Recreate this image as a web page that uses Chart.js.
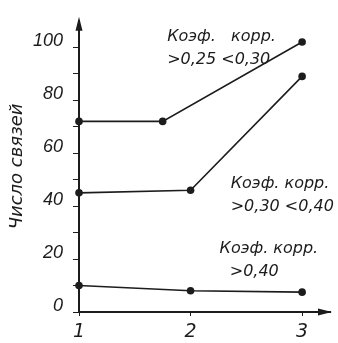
<!DOCTYPE html>
<html>
<head>
<meta charset="utf-8">
<script src="https://cdn.jsdelivr.net/npm/chart.js@4"></script>
<style>
  html, body { margin: 0; padding: 0; background: #fff; }
  #wrap { width: 338px; height: 343px; }
</style>
</head>
<body>
<div id="wrap"><canvas id="c"></canvas></div>
<script>
// данные
const xTicks = [1, 2, 3];
const xTop = [1, 1.75, 3];
const yTop = [72, 72, 102];
const xMid = [1, 2, 3];
const yMid = [45, 46, 89];
const xLow = [1, 2, 3];
const yLow = [10, 8, 7.5];
const yTitle = 'Число связей';
const notes = [
  { x: 1.79, y: 104, lines: ['Коэф.   корр.', '>0,25 <0,30'] },
  { x: 2.36, y: 48.5, lines: ['Коэф. корр.', '>0,30 <0,40'] },
  { x: 2.26, y: 24, lines: ['Коэф. корр.', '  >0,40'] }
];

const ink = '#1c1c1c';
const font = '"DejaVu Sans", sans-serif';
const narrow = '"Liberation Sans", sans-serif';

function pts(xs, ys) {
  return xs.map((x, i) => ({ x: x, y: ys[i] }));
}

function line(xs, ys) {
  return {
    data: pts(xs, ys),
    borderColor: ink,
    backgroundColor: ink,
    borderWidth: 1.6,
    pointRadius: 3.8,
    pointBorderWidth: 0,
    tension: 0,
    clip: false
  };
}

// подписи и стрелки на концах осей
const extras = {
  id: 'extras',
  afterDraw(chart) {
    const ctx = chart.ctx;
    const a = chart.chartArea;
    const xs = chart.scales.x, ys = chart.scales.y;
    ctx.save();
    ctx.fillStyle = ink;
    // стрелка оси y
    ctx.beginPath();
    ctx.moveTo(a.left, a.top - 4);
    ctx.lineTo(a.left - 3.5, a.top + 10);
    ctx.lineTo(a.left + 3.5, a.top + 10);
    ctx.closePath();
    ctx.fill();
    // стрелка оси x
    ctx.beginPath();
    ctx.moveTo(a.right + 2, a.bottom);
    ctx.lineTo(a.right - 12, a.bottom - 3.5);
    ctx.lineTo(a.right - 12, a.bottom + 3.5);
    ctx.closePath();
    ctx.fill();
    // подписи
    ctx.font = 'italic 16px ' + font;
    ctx.textAlign = 'left';
    ctx.textBaseline = 'middle';
    notes.forEach(n => {
      const px = xs.getPixelForValue(n.x);
      const py = ys.getPixelForValue(n.y);
      n.lines.forEach((s, i) => ctx.fillText(s, px, py + i * 23));
    });
    ctx.restore();
  }
};

new Chart(document.getElementById('c'), {
  type: 'line',
  data: {
    datasets: [line(xTop, yTop), line(xMid, yMid), line(xLow, yLow)]
  },
  options: {
    responsive: true,
    maintainAspectRatio: false,
    animation: false,
    layout: { padding: { top: 13, right: 8, left: 0, bottom: 0 } },
    plugins: { legend: { display: false }, tooltip: { enabled: false } },
    scales: {
      x: {
        type: 'linear',
        min: 1,
        max: 3.25,
        afterBuildTicks: s => { s.ticks = xTicks.map(v => ({ value: v })); },
        afterFit: s => { s.height = 31; },
        ticks: { autoSkip: false, color: ink, font: { family: font, size: 19, style: 'italic' }, padding: 5, maxRotation: 0 },
        grid: { display: true, drawOnChartArea: false, tickLength: 4, tickColor: ink },
        border: { color: ink, width: 2 }
      },
      y: {
        min: 0,
        max: 110,
        afterBuildTicks: s => { s.ticks = s.ticks.filter(t => t.value <= 100); },
        afterFit: s => { s.width = 79; },
        title: { display: true, text: yTitle, color: ink, font: { family: font, size: 18, style: 'italic' }, padding: { top: 7, bottom: 0 } },
        ticks: {
          stepSize: 10,
          autoSkip: false,
          color: ink,
          labelOffset: -6,
          padding: 10,
          font: { family: narrow, size: 18, style: 'italic' },
          callback: v => (v % 20 === 0 ? v : '')
        },
        grid: { display: true, drawOnChartArea: false, tickLength: 6, tickColor: ink },
        border: { color: ink, width: 2 }
      }
    }
  },
  plugins: [extras]
});
</script>
</body>
</html>
